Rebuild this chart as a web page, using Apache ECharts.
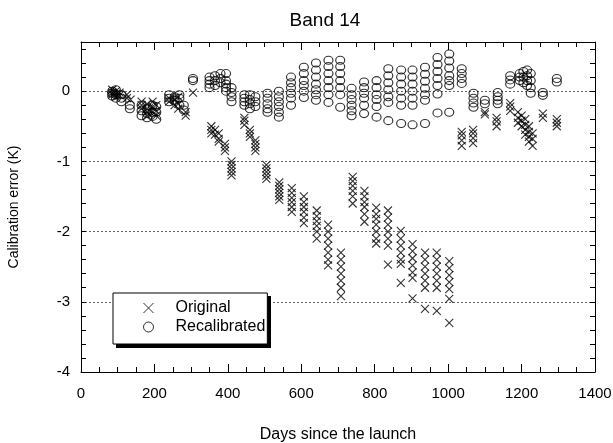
<!DOCTYPE html>
<html>
<head>
<meta charset="utf-8">
<script src="https://cdn.jsdelivr.net/npm/echarts@6/dist/echarts.min.js"></script>
<style>html,body{margin:0;padding:0;background:#fff}#c{width:613px;height:443px}</style>
</head>
<body>
<div id="c"></div>
<script>
// x tick labels and y tick labels
const xTicks = [0, 200, 400, 600, 800, 1000, 1200, 1400];
const yTicks = [-4, -3, -2, -1, 0];

// Original: [day, values at that day]
const originalCols = [
  [85, [0.02, -0.02, -0.05]],
  [95, [0.0, -0.04, -0.08]],
  [105, [-0.02, -0.06]],
  [125, [-0.05, -0.1]],
  [135, [-0.12]],
  [165, [-0.15, -0.2, -0.25]],
  [180, [-0.18, -0.25, -0.3, -0.35]],
  [195, [-0.15, -0.22, -0.3]],
  [205, [-0.2, -0.28, -0.35]],
  [240, [-0.1, -0.15]],
  [255, [-0.12, -0.2]],
  [265, [-0.08, -0.18, -0.25]],
  [285, [-0.3, -0.35]],
  [305, [-0.02]],
  [355, [-0.5, -0.55, -0.6]],
  [365, [-0.55, -0.62]],
  [375, [-0.6, -0.68, -0.72]],
  [392, [-0.75, -0.8, -0.85]],
  [410, [-1.0, -1.05, -1.1, -1.15, -1.2]],
  [445, [-0.38, -0.42, -0.48]],
  [460, [-0.55, -0.6, -0.65]],
  [475, [-0.7, -0.75, -0.8, -0.85]],
  [505, [-1.05, -1.1, -1.15, -1.2, -1.25]],
  [540, [-1.3, -1.35, -1.4, -1.45, -1.5, -1.55]],
  [574, [-1.38, -1.45, -1.52, -1.58, -1.65, -1.72]],
  [607, [-1.5, -1.58, -1.65, -1.72, -1.8, -1.88]],
  [642, [-1.7, -1.78, -1.85, -1.92, -2.0, -2.1]],
  [673, [-1.9, -2.0, -2.1, -2.2, -2.3, -2.4, -2.48]],
  [708, [-2.3, -2.4, -2.5, -2.6, -2.7, -2.8, -2.92]],
  [740, [-1.22, -1.28, -1.35, -1.42, -1.5, -1.6]],
  [772, [-1.42, -1.5, -1.58, -1.65, -1.75, -1.86]],
  [804, [-1.66, -1.75, -1.82, -1.9, -2.0, -2.1, -2.17]],
  [836, [-1.7, -1.8, -1.9, -2.0, -2.1, -2.2, -2.47]],
  [871, [-1.99, -2.1, -2.2, -2.3, -2.4, -2.46, -2.73]],
  [903, [-2.18, -2.28, -2.38, -2.48, -2.58, -2.66, -2.95]],
  [937, [-2.3, -2.4, -2.5, -2.6, -2.7, -2.8, -3.1]],
  [969, [-2.3, -2.4, -2.5, -2.6, -2.7, -2.8, -3.13]],
  [1003, [-2.42, -2.52, -2.62, -2.72, -2.82, -2.96, -3.3]],
  [1037, [-0.58, -0.63, -0.7, -0.78]],
  [1068, [-0.55, -0.6, -0.67, -0.74]],
  [1100, [-0.3, -0.33]],
  [1132, [-0.38, -0.43, -0.5]],
  [1169, [-0.17, -0.22, -0.28]],
  [1190, [-0.3, -0.38, -0.45]],
  [1200, [-0.35, -0.42, -0.5]],
  [1210, [-0.4, -0.48, -0.55, -0.62]],
  [1220, [-0.5, -0.58, -0.65, -0.72]],
  [1230, [-0.6, -0.68, -0.78]],
  [1258, [-0.32, -0.38]],
  [1296, [-0.4, -0.45, -0.5]]
];

// Recalibrated: [day, values at that day]
const recalCols = [
  [85, [0.0, -0.03, -0.07]],
  [95, [0.02, -0.05, -0.1]],
  [110, [-0.05, -0.1, -0.15]],
  [133, [-0.2, -0.25]],
  [165, [-0.2, -0.28, -0.35]],
  [180, [-0.25, -0.32, -0.38]],
  [195, [-0.2, -0.3, -0.36]],
  [205, [-0.22, -0.3, -0.4]],
  [240, [-0.05, -0.1, -0.15]],
  [255, [-0.08, -0.13]],
  [268, [-0.05, -0.1, -0.2]],
  [280, [-0.2, -0.27]],
  [305, [0.18, 0.15]],
  [350, [0.05, 0.1, 0.15, 0.2]],
  [365, [0.08, 0.15, 0.22]],
  [380, [0.12, 0.18, 0.25]],
  [395, [0.25, 0.15, 0.1, 0.05, 0.0]],
  [410, [0.05, -0.02, -0.08, -0.15]],
  [445, [-0.05, -0.1, -0.15, -0.2]],
  [460, [-0.05, -0.12, -0.18, -0.25]],
  [475, [-0.08, -0.15, -0.22]],
  [508, [-0.03, -0.1, -0.18, -0.25, -0.3]],
  [539, [0.0, -0.08, -0.15, -0.22, -0.3, -0.37]],
  [572, [0.2, 0.12, 0.05, -0.03, -0.1, -0.2]],
  [607, [0.34, 0.25, 0.15, 0.08, 0.0, -0.09]],
  [640, [0.4, 0.3, 0.2, 0.1, 0.02, -0.05, -0.13]],
  [674, [0.44, 0.35, 0.25, 0.15, 0.05, -0.05, -0.16]],
  [706, [0.44, 0.35, 0.25, 0.15, 0.05, -0.05, -0.23]],
  [737, [0.04, -0.05, -0.12, -0.2, -0.28, -0.35]],
  [771, [0.13, 0.05, -0.03, -0.1, -0.2, -0.32]],
  [805, [0.15, 0.05, -0.05, -0.12, -0.22, -0.37]],
  [837, [0.32, 0.22, 0.12, 0.02, -0.08, -0.16, -0.42]],
  [872, [0.3, 0.2, 0.1, 0.0, -0.1, -0.2, -0.46]],
  [903, [0.3, 0.2, 0.1, 0.0, -0.1, -0.2, -0.48]],
  [937, [0.34, 0.24, 0.14, 0.04, -0.05, -0.13, -0.46]],
  [971, [0.48, 0.38, 0.28, 0.18, 0.08, -0.04, -0.31]],
  [1003, [0.53, 0.43, 0.33, 0.22, 0.15, 0.08, -0.3]],
  [1037, [0.32, 0.25, 0.18, 0.11]],
  [1069, [-0.03, -0.1, -0.17, -0.23]],
  [1100, [-0.13, -0.18]],
  [1135, [-0.02, -0.08, -0.13, -0.18]],
  [1169, [0.22, 0.16, 0.1]],
  [1195, [0.25, 0.2, 0.15]],
  [1205, [0.28, 0.2, 0.12]],
  [1215, [0.3, 0.22, 0.15, 0.08]],
  [1225, [0.25, 0.15, 0.05, -0.03]],
  [1258, [-0.02, -0.06]],
  [1296, [0.18, 0.13]]
];

function flatten(cols) {
  const out = [];
  cols.forEach(function (c) { c[1].forEach(function (v) { out.push([c[0], v]); }); });
  return out;
}

const CROSS = 'path://M0,0L10,10M10,0L0,10';
const RING = 'path://M0,5A5,5,0,1,1,10,5A5,5,0,1,1,0,5Z';
const FONT = 'Liberation Sans';

const chart = echarts.init(document.getElementById('c'), null, { renderer: 'canvas' });

function isInt(v) { return Math.abs(v - Math.round(v)) < 1e-6; }

const baseX = {
  type: 'value', min: 0, max: 1400, interval: 200,
  axisLine: { show: true, onZero: false, lineStyle: { color: '#000', width: 1 } },
  axisTick: { show: true, inside: true, length: 8, lineStyle: { color: '#000' } },
  minorTick: { show: true, splitNumber: 4, length: 5, lineStyle: { color: '#000' } },
  splitLine: { show: false }
};
const baseY = {
  type: 'value', min: -4, max: 0.7, interval: 0.2,
  axisLine: { show: true, onZero: false, lineStyle: { color: '#000', width: 1 } },
  axisTick: { show: true, inside: true, length: 5, lineStyle: { color: '#000' } },
  splitLine: { show: false }
};

chart.setOption({
  backgroundColor: '#fff',
  animation: false,
  title: {
    text: 'Band 14', left: 325, top: 11, textAlign: 'center', padding: 0,
    textStyle: { fontFamily: FONT, fontSize: 19, fontWeight: 'normal', color: '#000' }
  },
  grid: { left: 81, right: 18, top: 42, bottom: 71, containLabel: false, outerBoundsMode: 'none' },
  graphic: [
    { type: 'rect', shape: { x: 116, y: 296, width: 155, height: 52 }, style: { fill: '#000' }, z: 1, silent: true }
  ],
  legend: {
    orient: 'vertical', left: 113, top: 293, z: 10,
    padding: [7, 2, 9, 30], itemGap: 3,
    itemWidth: 10, itemHeight: 10, symbolKeepAspect: true,
    backgroundColor: '#fff', borderColor: '#000', borderWidth: 1,
    textStyle: { fontFamily: FONT, fontSize: 16, color: '#000', padding: [0, 0, 0, 17] },
    data: [
      { name: 'Original', icon: CROSS, itemStyle: { color: 'transparent', borderColor: '#000', borderWidth: 1 } },
      { name: 'Recalibrated', icon: RING, itemStyle: { color: 'transparent', borderColor: '#000', borderWidth: 1 } }
    ]
  },
  xAxis: [
    Object.assign({}, baseX, {
      position: 'bottom',
      name: 'Days since the launch', nameLocation: 'middle', nameGap: 55,
      nameTextStyle: { fontFamily: FONT, fontSize: 16, color: '#000' },
      axisLabel: { show: true, margin: 14, fontFamily: FONT, fontSize: 15, color: '#000',
        formatter: function (v) { return xTicks.indexOf(v) >= 0 ? String(v) : ''; } }
    }),
    Object.assign({}, baseX, { position: 'top', axisLabel: { show: false } })
  ],
  yAxis: [
    Object.assign({}, baseY, {
      position: 'left',
      name: 'Calibration error (K)', nameLocation: 'middle', nameGap: 60,
      nameTextStyle: { fontFamily: FONT, fontSize: 14, color: '#000' },
      axisLabel: { show: true, margin: 11, fontFamily: FONT, fontSize: 15, color: '#000',
        formatter: function (v) { return (isInt(v) && yTicks.indexOf(Math.round(v)) >= 0) ? String(Math.round(v)) : ''; } }
    }),
    Object.assign({}, baseY, { position: 'right', axisLabel: { show: false } }),
    {
      type: 'value', min: -4, max: 0.7, interval: 1, position: 'left',
      axisLine: { show: false }, axisTick: { show: false }, axisLabel: { show: false },
      splitLine: { show: true, lineStyle: { color: '#666', width: 1, type: [2, 2] } }
    }
  ],
  series: [
    {
      name: 'Original', type: 'scatter', xAxisIndex: 0, yAxisIndex: 0,
      symbol: CROSS, symbolSize: [8, 8], symbolKeepAspect: false,
      itemStyle: { color: 'transparent', borderColor: '#000', borderWidth: 1.1 },
      data: flatten(originalCols), z: 3
    },
    {
      name: 'Recalibrated', type: 'scatter', xAxisIndex: 0, yAxisIndex: 0,
      symbol: RING, symbolSize: [9, 8], symbolKeepAspect: false,
      itemStyle: { color: 'transparent', borderColor: '#000', borderWidth: 1.1 },
      data: flatten(recalCols), z: 3
    }
  ]
});
</script>
</body>
</html>
